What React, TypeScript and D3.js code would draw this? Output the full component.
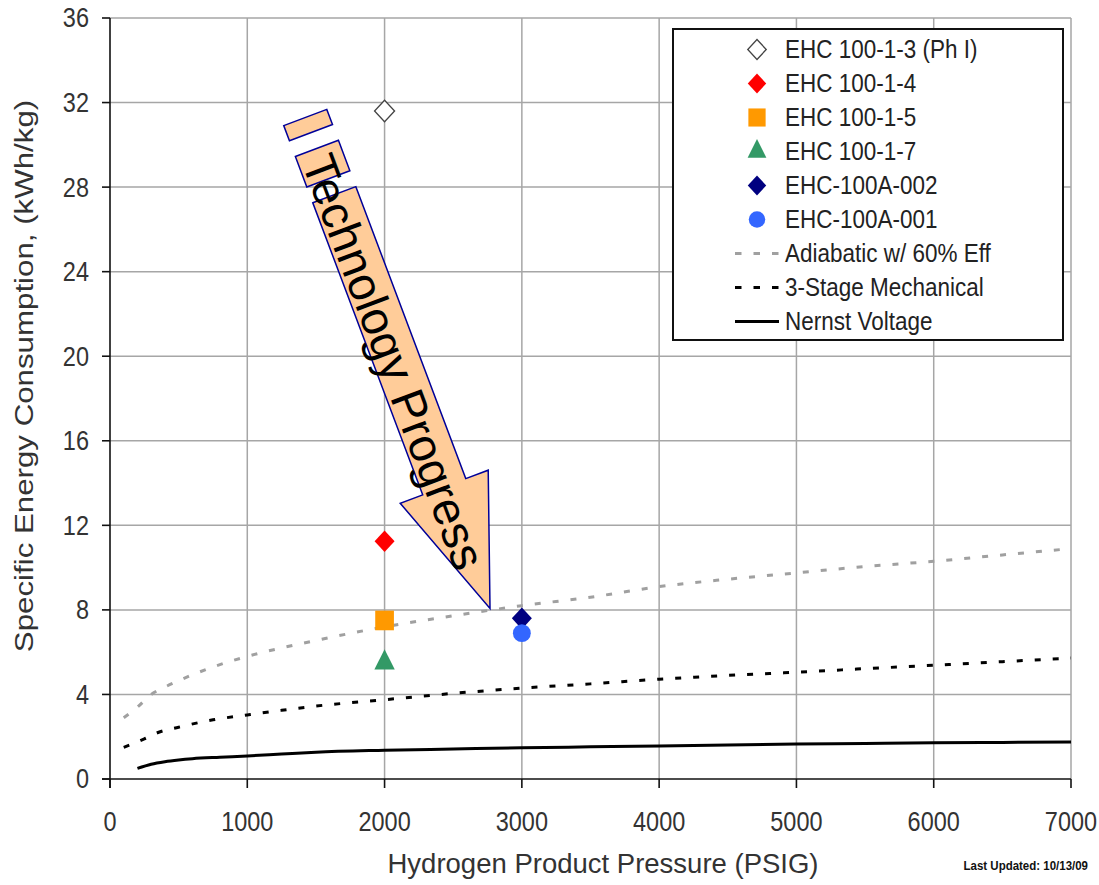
import React from 'react';
import * as d3 from 'd3';

// ---- data ----
const xTicks = [0, 1000, 2000, 3000, 4000, 5000, 6000, 7000];
const yTicks = [0, 4, 8, 12, 16, 20, 24, 28, 32, 36];

const adiabaticP = [100, 200, 300, 400, 500, 750, 1000, 1500, 2000, 2500, 3000, 3500, 4000, 4500, 5000, 5500, 6000, 6500, 7000];
const adiabaticE = [2.9, 3.4, 4.0, 4.35, 4.65, 5.3, 5.8, 6.55, 7.2, 7.72, 8.2, 8.6, 9.1, 9.45, 9.75, 10.05, 10.3, 10.6, 10.9];

const mechP = [100, 250, 350, 500, 750, 1000, 1250, 1500, 2000, 2500, 3000, 3500, 4000, 4500, 5000, 5500, 6000, 6500, 7000];
const mechE = [1.5, 1.9, 2.2, 2.45, 2.8, 3.03, 3.25, 3.45, 3.75, 4.05, 4.3, 4.5, 4.72, 4.9, 5.05, 5.22, 5.38, 5.55, 5.72];

const nernstP = [200, 300, 400, 500, 600, 800, 1000, 1250, 1500, 2000, 2500, 3000, 3500, 4000, 4500, 5000, 5500, 6000, 6500, 7000];
const nernstE = [0.5, 0.7, 0.82, 0.9, 0.96, 1.03, 1.09, 1.18, 1.27, 1.36, 1.42, 1.48, 1.52, 1.56, 1.61, 1.65, 1.68, 1.71, 1.73, 1.75];

const pointNames = ['EHC 100-1-3 (Ph I)', 'EHC 100-1-4', 'EHC 100-1-5', 'EHC 100-1-7', 'EHC-100A-002', 'EHC-100A-001'];
const pointP = [2000, 2000, 2000, 2000, 3000, 3000];
const pointE = [31.6, 11.25, 7.5, 5.5, 7.6, 6.9];
const pointShape = ['diamondOpen', 'diamond', 'square', 'triangle', 'diamond', 'circle'];
const pointColor = ['#ffffff', '#ff0000', '#ff9900', '#339966', '#000080', '#3366ff'];

const lineNames = ['Adiabatic w/ 60% Eff', '3-Stage Mechanical', 'Nernst Voltage'];

const arrowStart: [number, number] = [1634, 27.64];
const arrowTip: [number, number] = [2768, 8.07];
const arrowLabel = 'Technology Progress';

// ---- layout ----
const W = 1099, H = 885;
const x = d3.scaleLinear().domain([0, 7000]).range([110, 1071]);
const y = d3.scaleLinear().domain([0, 36]).range([779, 18]);
const FONT = 'Liberation Sans, Arial, sans-serif';

function T({ x: tx, y: ty, sy = 1.15, size = 23.5, anchor = 'middle', children, fill = '#333', weight = 'normal' }: any) {
  return (
    <text transform={`translate(${tx},${ty}) scale(1,${sy})`} fontSize={size} fontFamily={FONT}
      textAnchor={anchor} dy="0.35em" fill={fill} fontWeight={weight}>{children}</text>
  );
}

function Marker({ shape, color, cx, cy, scale = 1 }: any) {
  if (shape === 'diamond' || shape === 'diamondOpen') {
    const p = d3.symbol(d3.symbolSquare, 200 * scale)();
    return <path d={p!} transform={`translate(${cx},${cy}) scale(1,1.08) rotate(45)`}
      fill={shape === 'diamondOpen' ? '#fff' : color} stroke={shape === 'diamondOpen' ? '#444' : 'none'} strokeWidth={1.3} />;
  }
  if (shape === 'square') {
    const p = d3.symbol(d3.symbolSquare, 350 * scale)();
    return <path d={p!} transform={`translate(${cx},${cy}) scale(1,1.05)`} fill={color} />;
  }
  if (shape === 'triangle') {
    const p = d3.symbol(d3.symbolTriangle, 180 * scale)();
    return <path d={p!} transform={`translate(${cx},${cy}) scale(1,1.15)`} fill={color} />;
  }
  const p = d3.symbol(d3.symbolCircle, 250 * scale)();
  return <path d={p!} transform={`translate(${cx},${cy})`} fill={color} />;
}

export default function App() {
  const line = d3.line<number>().curve(d3.curveMonotoneX);
  const mk = (P: number[], E: number[]) => line(P.map((p, i) => [x(p), y(E[i])]) as any);

  // arrow geometry
  const O = [x(arrowStart[0]), y(arrowStart[1])];
  const Tp = [x(arrowTip[0]), y(arrowTip[1])];
  const L = Math.hypot(Tp[0] - O[0], Tp[1] - O[1]);
  const d = [(Tp[0] - O[0]) / L, (Tp[1] - O[1]) / L];
  const n = [d[1], -d[0]];
  const pt = (u: number, v: number) => [O[0] + u * d[0] + v * n[0], O[1] + u * d[1] + v * n[1]];
  const poly = (arr: number[][]) => arr.map(([u, v]) => pt(u, v).join(',')).join(' ');
  const headLen = 130, hw = 23, headW = 47;
  const arrowPoly = poly([[0, -hw], [0, hw], [L - headLen, hw], [L - headLen, headW], [L, 0], [L - headLen, -headW], [L - headLen, -hw]]);
  const piece2 = poly([[-49.5, -hw], [-49.5, hw], [-17, hw], [-17, -hw]]);
  const piece1 = poly([[-82.5, -hw], [-82.5, hw], [-66.3, hw], [-66.3, -hw]]);
  const angle = Math.atan2(d[1], d[0]) * 180 / Math.PI;
  const tPos = pt(-42, -19.5);

  const legX = 673, legY = 29, legW = 390, legH = 311;
  const symX = 757, txtX = 785;
  const rowY = (i: number) => 49.5 + i * 34;

  return (
    <svg width={W} height={H} style={{ position: 'absolute', left: 0, top: 0, background: '#fff' }}>
      <rect x={0} y={0} width={W} height={H} fill="#fff" />
      {/* grid */}
      {xTicks.filter(t => t > 0).map(t => (
        <line key={'gx' + t} x1={x(t)} x2={x(t)} y1={y(36)} y2={y(0)} stroke="#a6a6a6" strokeWidth={1.5} />
      ))}
      {yTicks.filter(t => t > 0).map(t => (
        <line key={'gy' + t} x1={x(0)} x2={x(7000)} y1={y(t)} y2={y(t)} stroke="#a6a6a6" strokeWidth={1.5} />
      ))}
      {/* axes */}
      <line x1={x(0)} x2={x(0)} y1={y(36)} y2={y(0) + 9} stroke="#111" strokeWidth={1.6} />
      <line x1={x(0) - 8} x2={x(7000)} y1={y(0)} y2={y(0)} stroke="#111" strokeWidth={1.6} />
      {yTicks.map(t => (
        <line key={'ty' + t} x1={x(0) - 8} x2={x(0)} y1={y(t)} y2={y(t)} stroke="#111" strokeWidth={1.6} />
      ))}
      {xTicks.map(t => (
        <line key={'tx' + t} x1={x(t)} x2={x(t)} y1={y(0)} y2={y(0) + 9} stroke="#111" strokeWidth={1.6} />
      ))}
      {yTicks.map(t => (
        <T key={'ly' + t} x={89} y={y(t)} anchor="end">{t}</T>
      ))}
      {xTicks.map(t => (
        <T key={'lx' + t} x={x(t)} y={822}>{t}</T>
      ))}
      {/* axis titles */}
      <text transform={`translate(603,873)`} fontSize={27.5} fontFamily={FONT} textAnchor="middle" fill="#333">Hydrogen Product Pressure (PSIG)</text>
      <text transform={`translate(33,376) rotate(-90) scale(1.18,1)`} fontSize={26.5} fontFamily={FONT} textAnchor="middle" fill="#333">Specific Energy Consumption, (kWh/kg)</text>
      <text transform={`translate(1088,870) scale(1,1.15)`} fontSize={11.5} fontFamily={FONT} fontWeight="bold" textAnchor="end" fill="#111">Last Updated: 10/13/09</text>

      {/* curves */}
      <path d={mk(adiabaticP, adiabaticE)!} fill="none" stroke="#a0a0a0" strokeWidth={3} strokeDasharray="6,12" />
      <path d={mk(mechP, mechE)!} fill="none" stroke="#000" strokeWidth={3} strokeDasharray="6,12" />
      <path d={mk(nernstP, nernstE)!} fill="none" stroke="#000" strokeWidth={3} />

      {/* arrow annotation */}
      <polygon points={piece1} fill="#ffcc99" stroke="#000099" strokeWidth={1.5} />
      <polygon points={piece2} fill="#ffcc99" stroke="#000099" strokeWidth={1.5} />
      <polygon points={arrowPoly} fill="#ffcc99" stroke="#000099" strokeWidth={1.5} strokeLinejoin="miter" />
      <text transform={`translate(${tPos[0]},${tPos[1]}) rotate(${angle})`} fontSize={47} fontFamily={FONT} fill="#000">{arrowLabel}</text>

      {/* points */}
      {pointP.map((p, i) => (
        <Marker key={'m' + i} shape={pointShape[i]} color={pointColor[i]} cx={x(p)} cy={y(pointE[i])} />
      ))}

      {/* legend */}
      <rect x={legX} y={legY} width={legW} height={legH} fill="#fff" stroke="#111" strokeWidth={2} />
      {pointNames.map((nm, i) => (
        <g key={'lg' + i}>
          <Marker shape={pointShape[i]} color={pointColor[i]} cx={symX} cy={rowY(i)} scale={0.85} />
          <T x={txtX} y={rowY(i)} anchor="start" size={22.5} sy={1.12} fill="#222">{nm}</T>
        </g>
      ))}
      {lineNames.map((nm, j) => {
        const i = j + 6;
        const col = j === 0 ? '#a0a0a0' : '#000';
        return (
          <g key={'ll' + j}>
            <line x1={735} x2={779} y1={rowY(i)} y2={rowY(i)} stroke={col} strokeWidth={3}
              strokeDasharray={j < 2 ? '6.5,12' : undefined} />
            <T x={txtX} y={rowY(i)} anchor="start" size={22.5} sy={1.12} fill="#222">{nm}</T>
          </g>
        );
      })}
    </svg>
  );
}
